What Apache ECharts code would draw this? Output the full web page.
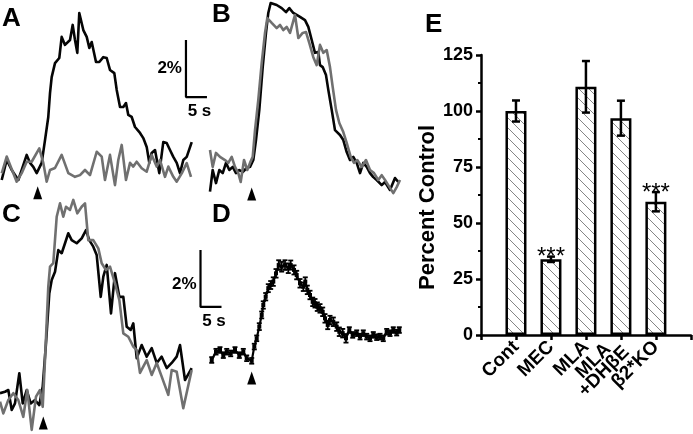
<!DOCTYPE html>
<html><head><meta charset="utf-8">
<script src="https://cdn.jsdelivr.net/npm/echarts@6/dist/echarts.min.js"></script>
<style>html,body{margin:0;padding:0;background:#fff}#c{width:693px;height:434px}</style>
</head><body><div id="c"></div>
<script>
// ---------- DATA (time in s relative to stimulus, ΔF/F in %) ----------
const aBlack = [[-8.57,-0.35],[-7.38,0.35],[-6.19,0],[-4.62,-0.35],[-3.81,0],[-2.62,0.53],[-1.83,0.25],[-1.05,0.11],[-0.24,-0.11],[0.95,0.25],[1.74,1.05],[2.52,1.86],[2.93,2.70],[3.33,3.26],[4.12,3.75],[5.14,3.93],[5.71,4.67],[6.50,4.39],[7.69,4.56],[8.33,5.09],[8.88,4.56],[9.43,4.11],[9.90,5.51],[10.86,4.91],[11.67,4.67],[12.29,4.28],[12.86,4.49],[13.88,3.79],[14.67,3.79],[15.62,3.96],[16.43,3.93],[17.21,3.51],[18.24,3.40],[18.81,2.81],[19.60,2.21],[20.38,2.21],[21.02,2.35],[21.57,1.93],[22.38,1.86],[23.17,1.51],[24.36,1.30],[25.14,1.12],[25.95,0.81],[26.57,0.25],[27.14,0.60],[27.93,0.70],[28.95,-0.11],[29.90,0.98],[30.71,0.95],[31.50,0.70],[32.29,0.46],[33.10,0.25],[33.88,-0.11],[34.67,0.35],[35.48,0.46],[36.67,0.98]];
const aGray = [[-8.57,-0.12],[-7.38,0.47],[-5.0,-0.41],[-3.81,-0.11],[-2.62,0.29],[-1.43,0.29],[0.38,0.76],[1.33,0.25],[2.14,-0.41],[2.93,0],[4.12,0.07],[5.71,0.53],[7.29,-0.11],[8.88,-0.24],[10.07,-0.18],[11.26,0],[12.45,-0.18],[14.05,0.64],[15.24,0.47],[16.02,-0.35],[17.21,0.53],[18.40,-0.53],[19.19,0.35],[20.0,0.88],[21.02,-0.35],[21.98,0.25],[22.76,0.12],[23.57,0.29],[24.76,0.06],[25.95,-0.06],[27.14,0.53],[28.33,0.12],[29.12,0.35],[30.31,-0.24],[31.10,0.12],[32.29,-0.24],[33.10,-0.41],[34.29,-0.12],[35.48,0.24],[36.50,-0.24]];
const bBlack = [[-9.93,-0.76],[-9.29,0],[-8.50,-0.46],[-7.71,0],[-6.90,-0.11],[-6.12,0.25],[-5.33,0],[-4.52,0.11],[-3.74,-0.11],[-2.95,0],[-2.14,-0.07],[-1.19,0.07],[-0.40,0.11],[0.38,0.35],[1.02,1.05],[1.81,2.11],[2.62,3.61],[3.40,4.81],[3.95,5.51],[4.52,5.86],[5.95,5.79],[7.14,5.68],[8.17,5.54],[8.95,5.68],[9.90,5.51],[11.50,5.37],[12.69,5.26],[13.48,5.02],[14.29,4.56],[15.07,4.11],[15.86,4.14],[16.26,3.68],[16.90,3.61],[17.69,3.33],[18.24,2.81],[19.05,2.11],[19.83,1.40],[21.02,1.23],[21.81,1.05],[22.62,0.63],[23.40,0.35],[24.19,0.46],[25.0,0.25],[25.79,-0.11],[26.57,0.25],[27.38,0.11],[28.17,-0.11],[28.95,-0.25],[29.76,-0.35],[30.95,-0.53],[31.74,-0.42],[32.93,-0.70],[34.12,-0.28],[34.90,-0.42]];
const bGray = [[-9.93,0.70],[-9.29,0.11],[-8.50,0.60],[-7.55,0.46],[-6.36,0.35],[-5.57,0.25],[-4.76,0.46],[-3.98,0.11],[-3.19,-0.11],[-2.62,-0.42],[-1.83,0.35],[-1.05,0],[-0.40,0.25],[0.24,0.46],[0.79,1.40],[1.57,2.46],[2.38,3.75],[3.17,4.81],[3.71,5.33],[4.76,5.16],[5.95,4.98],[6.74,5.09],[7.52,4.91],[8.33,5.02],[9.12,4.81],[10.31,5.44],[11.10,4.63],[12.14,4.81],[12.93,4.84],[13.71,4.46],[14.67,3.96],[15.48,3.68],[16.26,4.39],[17.05,4.11],[17.86,4.21],[18.64,3.61],[19.29,2.91],[20.07,2.11],[20.86,1.65],[21.81,1.33],[22.62,0.95],[23.57,0.46],[24.36,0.25],[25.14,0.35],[26.19,0.11],[27.21,0.35],[28.17,0],[29.12,-0.11],[30.14,-0.35],[30.95,-0.18],[31.74,-0.35],[32.52,-0.53],[33.71,-0.81],[34.52,-0.60],[35.31,-0.35]];
const cBlack = [[-10.31,0.24],[-9.12,0.29],[-8.33,0.35],[-7.52,-0.35],[-6.74,-0.12],[-5.71,0.94],[-4.90,-0.12],[-3.95,0.35],[-3.0,-0.12],[-1.98,0],[-0.95,-0.18],[-0.14,0.47],[0.64,1.99],[1.43,3.74],[2.0,4.21],[2.79,4.50],[3.57,5.26],[4.38,5.15],[5.17,5.50],[5.95,5.85],[6.76,5.61],[7.95,5.50],[9.14,5.67],[10.17,5.96],[10.95,5.61],[11.90,5.38],[12.71,5.09],[13.67,3.62],[14.29,4.33],[15.10,4.74],[16.12,3.04],[17.07,4.45],[18.10,3.62],[19.05,3.62],[19.86,2.57],[20.81,2.46],[21.43,2.69],[22.24,1.47],[23.43,1.93],[24.62,1.52],[25.81,1.82],[27.0,1.30],[28.19,1.52],[29.38,1.12],[30.57,1.30],[31.76,1.52],[32.55,1.93],[33.74,0.70],[35.33,1.12]];
const cGray = [[-10.31,-0.06],[-9.52,-0.47],[-8.33,0],[-7.14,0.24],[-5.95,0],[-4.76,-0.59],[-3.81,0.35],[-2.76,-1.05],[-1.74,0.12],[-0.79,0.35],[-0.14,-0.24],[0.40,1.40],[1.19,3.98],[1.60,4.68],[2.38,4.80],[3.19,6.43],[3.98,6.90],[4.76,6.43],[5.40,6.78],[6.36,6.67],[7.14,7.02],[8.10,6.55],[9.14,6.78],[9.93,6.90],[10.71,5.61],[11.90,5.61],[13.10,5.32],[13.90,4.80],[14.93,4.56],[15.88,4.68],[17.07,4.09],[18.10,3.51],[19.05,2.34],[20.24,2.22],[21.43,1.87],[22.24,1.75],[23.02,0.95],[24.62,1.40],[25.81,0.88],[27.0,1.30],[28.19,0.82],[29.76,0.18],[30.57,1.05],[31.76,0.99],[33.33,-0.29],[35.33,1.05]];
const dTime = [-9.52,-8.50,-7.55,-6.76,-5.95,-5.0,-3.98,-2.95,-2.0,-1.19,0,0.62,1.19,1.81,2.38,2.76,3.33,3.95,4.52,5.14,5.79,6.43,7.14,7.93,8.71,9.29,10.07,10.71,11.50,12.29,12.76,13.24,13.88,14.52,15.07,15.62,16.26,16.90,17.45,18.10,18.64,19.43,20.24,20.86,21.67,22.45,23.24,24.05,25.0,25.79,26.57,27.38,28.17,28.95,29.76,30.55,31.33,32.14,32.93,33.71,34.52,35.14];
const dMean = [-0.28,0.01,0.07,-0.11,0.01,-0.05,0.07,-0.11,0.01,-0.22,-0.31,0.19,0.48,0.89,1.30,1.65,1.94,2.24,2.35,2.47,2.76,3.05,2.99,3.05,2.94,3.05,2.88,2.70,2.41,2.29,2.47,2.18,2.0,1.76,1.71,1.59,1.53,1.41,1.18,0.95,1.12,1.06,0.89,0.71,0.66,0.48,0.77,0.60,0.66,0.54,0.66,0.54,0.48,0.60,0.52,0.54,0.48,0.71,0.66,0.77,0.68,0.77];
const dSem = [0.1,0.1,0.1,0.1,0.1,0.1,0.1,0.1,0.1,0.1,0.1,0.1,0.1,0.12,0.12,0.13,0.13,0.14,0.14,0.15,0.15,0.17,0.17,0.17,0.17,0.16,0.16,0.15,0.15,0.15,0.15,0.15,0.15,0.15,0.15,0.15,0.15,0.15,0.15,0.15,0.15,0.15,0.15,0.15,0.15,0.15,0.1,0.1,0.1,0.1,0.1,0.1,0.1,0.1,0.1,0.1,0.1,0.1,0.1,0.1,0.1,0.1];

const eCategories = ['Cont','MEC','MLA','MLA\n+DHβE','β2*KO'];
const eMean = [100, 33.8, 110.8, 96.8, 59.5];
const eErr = [4.7, 1.2, 11.5, 7.8, 4.3];
const eSig = ['', '***', '', '', '***'];
const eTicks = [0, 25, 50, 75, 100, 125];

const stimOnset = 0;           // s
const arrowLevel = {A:-0.8, B:-0.84, C:-0.81, D:-0.91};  // % (arrowhead placement)
const scaleBarPct = 2, scaleBarSec = 5;
const scaleAnchor = {A:[35.3, 2.56], D:[-12.19, 1.58]};

// ---------- LAYOUT ----------
const PX_PER_S = 4.2, PX_PER_PCT = 28.5;
const FONT = 'Liberation Sans, Arial, Helvetica, sans-serif';
const panels = [
  {key:'A', left:0,   top:0,   width:215, height:200, x0:37.7,  y0:170},
  {key:'B', left:200, top:0,   width:205, height:200, x0:251.7, y0:170},
  {key:'C', left:0,   top:200, width:200, height:234, x0:43.3,  y0:400},
  {key:'D', left:160, top:200, width:245, height:234, x0:251.7, y0:352}
];
const GRAY = '#707070', BLACK = '#050505';

const grids = [], xAxes = [], yAxes = [], series = [];
panels.forEach((p, i) => {
  grids.push({left:p.left, top:p.top, width:p.width, height:p.height});
  xAxes.push({gridIndex:i, type:'value', show:false,
    min:(p.left - p.x0)/PX_PER_S, max:(p.left + p.width - p.x0)/PX_PER_S});
  yAxes.push({gridIndex:i, type:'value', show:false,
    min:(p.y0 - p.top - p.height)/PX_PER_PCT, max:(p.y0 - p.top)/PX_PER_PCT});
  // arrowhead
  series.push({type:'scatter', xAxisIndex:i, yAxisIndex:i, symbol:'triangle', symbolSize:[9,13],
    itemStyle:{color:'#000', opacity:1}, data:[[stimOnset, arrowLevel[p.key]]], silent:true, animation:false});
});

function traceSeries(i, data, color, z){
  return {type:'line', xAxisIndex:i, yAxisIndex:i, data:data, showSymbol:false, symbol:'none',
    lineStyle:{color:color, width:2.6, join:'round'}, clip:false, z:z, animation:false, silent:true};
}
series.push(traceSeries(0, aBlack, BLACK, 2));
series.push(traceSeries(0, aGray, GRAY, 3));
series.push(traceSeries(1, bBlack, BLACK, 2));
series.push(traceSeries(1, bGray, GRAY, 3));
series.push(traceSeries(2, cBlack, BLACK, 2));
series.push(traceSeries(2, cGray, GRAY, 3));

// panel D mean trace with SEM
const dData = dTime.map((t, k) => [t, dMean[k], dSem[k]]);
series.push({type:'line', xAxisIndex:3, yAxisIndex:3, data:dData.map(d=>[d[0],d[1]]),
  symbol:'rect', symbolSize:4, showSymbol:true, itemStyle:{color:'#000', opacity:1},
  lineStyle:{color:'#000', width:2.2}, clip:false, animation:false, silent:true});
function errRender(capW, lw){
  return function(params, api){
    const x = api.value(0), m = api.value(1), e = api.value(2);
    const t = api.coord([x, m + e]), b = api.coord([x, m - e]);
    const st = {stroke:'#000', lineWidth:lw};
    return {type:'group', children:[
      {type:'line', shape:{x1:t[0], y1:t[1], x2:b[0], y2:b[1]}, style:st},
      {type:'line', shape:{x1:t[0]-capW, y1:t[1], x2:t[0]+capW, y2:t[1]}, style:st},
      {type:'line', shape:{x1:b[0]-capW, y1:b[1], x2:b[0]+capW, y2:b[1]}, style:st}
    ]};
  };
}
series.push({type:'custom', xAxisIndex:3, yAxisIndex:3, data:dData, renderItem:errRender(2.5, 1.8),
  encode:{x:0, y:[1,2]}, clip:false, animation:false, silent:true, z:4});

// scale bars (A and D)
[['A',0],['D',3]].forEach(([k, i]) => {
  const [t, v] = scaleAnchor[k];
  series.push({type:'line', xAxisIndex:i, yAxisIndex:i, data:[[t, v + scaleBarPct],[t, v],[t + scaleBarSec, v]],
    symbol:'none', lineStyle:{color:'#000', width:2.2}, clip:false, animation:false, silent:true});
  const lab = {fontFamily:FONT, fontWeight:'bold', fontSize:17, color:'#000'};
  series.push({type:'scatter', xAxisIndex:i, yAxisIndex:i, symbolSize:0, clip:false, animation:false, silent:true,
    itemStyle:{opacity:1},
    data:[
      {value:[t, v + scaleBarPct/2], label:{show:true, position:'left', distance:4, formatter:scaleBarPct+'%', offset:[0, k==='D'?6:0], ...lab}},
      {value:[t + scaleBarSec/2, v], label:{show:true, position:'bottom', distance:6, formatter:scaleBarSec+' s', offset:[3,0], ...lab}}
    ]});
});

// ---------- PANEL E ----------
const pc = document.createElement('canvas'); pc.width = 10; pc.height = 10;
const g = pc.getContext('2d');
g.fillStyle = '#fff'; g.fillRect(0,0,10,10);
g.strokeStyle = '#666'; g.lineWidth = 0.8;
g.beginPath(); g.moveTo(-1,-1); g.lineTo(11,11); g.moveTo(-1,9); g.lineTo(1,11); g.moveTo(9,-1); g.lineTo(11,1); g.stroke();

grids.push({left:481, top:55, width:211, height:280});
const eIdx = 4;
const axisLineStyle = {color:'#000', width:2.5};
const catStyle = {align:'center', fontFamily:FONT, fontWeight:'bold', fontSize:19, color:'#000', lineHeight:15};
xAxes.push({gridIndex:eIdx, type:'value', min:0, max:eCategories.length + 1, interval:1,
  axisLine:{show:true, lineStyle:axisLineStyle}, axisTick:{show:true, inside:false, length:5, lineStyle:axisLineStyle},
  splitLine:{show:false},
  axisLabel:{show:true, rotate:45, margin:9, interval:0, fontFamily:FONT, fontWeight:'bold', fontSize:19, color:'#000', lineHeight:15,
    rich:{c:catStyle},
    formatter: v => (v >= 1 && v <= eCategories.length) ? eCategories[v-1].split('\n').map(s => '{c|' + s + '}').join('\n') : ''}});
yAxes.push({gridIndex:eIdx, type:'value', min:eTicks[0], max:eTicks[eTicks.length-1], interval:25,
  axisLine:{show:true, lineStyle:axisLineStyle}, axisTick:{show:true, inside:false, length:5, lineStyle:axisLineStyle},
  minorTick:{show:true, splitNumber:2, length:3, lineStyle:{color:'#000', width:2}},
  splitLine:{show:false},
  axisLabel:{margin:8, fontFamily:FONT, fontWeight:'bold', fontSize:18, color:'#000'},
  name:'Percent Control', nameLocation:'middle', nameGap:39,
  nameTextStyle:{fontFamily:FONT, fontWeight:'bold', fontSize:22, color:'#000', padding:[0,25,0,0]}});

const eBars = eMean.map((m, k) => [k + 1, m]);
const eErrData = eMean.map((m, k) => [k + 1, m, eErr[k]]);
series.push({type:'bar', xAxisIndex:eIdx, yAxisIndex:eIdx, data:eBars, barWidth:21,
  itemStyle:{color:{image:pc, repeat:'repeat'}, borderColor:'#000', borderWidth:2.5, opacity:1}, animation:false, silent:true});
series.push({type:'custom', xAxisIndex:eIdx, yAxisIndex:eIdx, data:eErrData, renderItem:errRender(4, 2.5),
  encode:{x:0, y:[1,2]}, animation:false, silent:true, z:5});
series.push({type:'scatter', xAxisIndex:eIdx, yAxisIndex:eIdx, symbolSize:0, animation:false, silent:true,
  itemStyle:{opacity:1},
  data:eMean.map((m, k) => ({value:[k + 1, m + eErr[k]],
    label:{show: eSig[k] !== '', formatter: eSig[k], position:'top', distance:0, offset:[0, 13],
      fontFamily:FONT, fontSize:24, color:'#000', opacity:1}}))});

// panel letters
const titles = [['A',2,6],['B',212,2],['C',2,202],['D',212,202],['E',425,12]].map(([t,l,tp]) => ({
  text:t, left:l, top:tp, padding:0, textStyle:{fontFamily:FONT, fontWeight:'bold', fontSize:26, color:'#000'}}));

const chart = echarts.init(document.getElementById('c'), null, {renderer:'canvas'});
chart.setOption({animation:false, backgroundColor:'#fff', title:titles, grid:grids, xAxis:xAxes, yAxis:yAxes, series:series});
</script></body></html>
